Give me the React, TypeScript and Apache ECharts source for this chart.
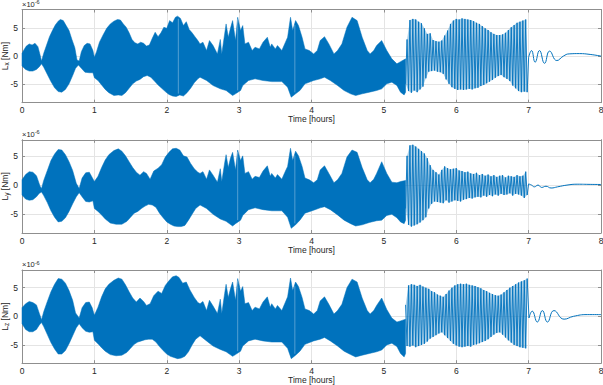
import React, { useEffect, useRef } from 'react';
import * as echarts from 'echarts';

// ---------- data (values in units of 1e-6 Nm, time in hours) ----------
// dense part: upper / lower envelope of the fast oscillation, [time, value]
const LX_UPPER = [[0,0.5],[0.03,1.2],[0.06,1.8],[0.1,2.2],[0.14,2.0],[0.18,2.3],[0.22,1.7],[0.25,0.2],[0.27,-0.9],[0.3,0.5],[0.34,2.0],[0.38,3.5],[0.42,4.6],[0.46,5.6],[0.5,6.3],[0.53,6.6],[0.57,6.4],[0.61,5.5],[0.65,4.6],[0.69,3.0],[0.73,1.5],[0.76,-0.7],[0.79,-0.9],[0.82,0.8],[0.86,1.9],[0.9,2.3],[0.94,2.2],[0.98,1.0],[1.0,-0.2],[1.03,0.8],[1.07,2.5],[1.12,3.8],[1.17,5.0],[1.22,5.8],[1.27,6.3],[1.32,6.6],[1.36,6.5],[1.4,5.8],[1.44,5.2],[1.48,4.2],[1.52,3.0],[1.56,2.4],[1.6,2.2],[1.64,2.5],[1.68,2.3],[1.72,1.8],[1.76,2.0],[1.8,3.2],[1.84,4.3],[1.88,3.5],[1.92,4.2],[1.96,5.2],[2.0,5.0],[2.04,6.4],[2.08,6.0],[2.12,7.0],[2.15,7.2],[2.19,6.8],[2.23,5.5],[2.27,6.2],[2.31,4.8],[2.35,4.2],[2.39,3.5],[2.43,2.8],[2.46,2.2],[2.5,2.5],[2.55,1.0],[2.59,2.8],[2.64,1.9],[2.7,0.4],[2.74,3.0],[2.76,0.4],[2.8,4.0],[2.82,5.8],[2.85,3.4],[2.88,5.0],[2.91,6.4],[2.95,2.8],[2.98,7.0],[3.02,4.6],[3.05,5.5],[3.08,2.2],[3.13,2.5],[3.18,1.0],[3.22,1.6],[3.28,1.3],[3.33,2.5],[3.39,3.4],[3.43,1.6],[3.45,2.2],[3.5,1.3],[3.53,1.9],[3.59,1.0],[3.64,2.5],[3.67,3.4],[3.71,7.0],[3.74,4.6],[3.78,6.4],[3.82,5.5],[3.87,3.4],[3.91,1.3],[3.97,1.0],[4.03,0.4],[4.08,1.0],[4.12,2.8],[4.18,3.5],[4.24,2.2],[4.31,0.4],[4.36,1.0],[4.42,2.2],[4.49,5.2],[4.56,7.0],[4.63,6.4],[4.7,3.4],[4.77,1.0],[4.81,0.4],[4.86,1.0],[4.9,1.9],[4.97,2.8],[5.04,1.0],[5.11,-0.5],[5.18,-1.4],[5.23,-1.0],[5.3,-0.5]];
const LX_LOWER = [[0,-1.8],[0.05,-2.4],[0.1,-2.7],[0.15,-2.7],[0.2,-2.4],[0.24,-1.9],[0.27,-1.4],[0.3,-2.0],[0.35,-3.3],[0.4,-4.6],[0.45,-5.7],[0.5,-6.4],[0.55,-6.5],[0.6,-6.0],[0.65,-5.0],[0.7,-3.5],[0.74,-2.2],[0.78,-1.6],[0.82,-2.2],[0.87,-2.9],[0.93,-3.0],[0.98,-3.0],[1.0,-3.9],[1.05,-4.4],[1.1,-5.2],[1.15,-6.0],[1.2,-6.6],[1.27,-7.1],[1.33,-7.0],[1.38,-7.1],[1.43,-6.6],[1.48,-5.8],[1.53,-5.0],[1.58,-4.5],[1.63,-4.2],[1.68,-3.7],[1.73,-3.5],[1.78,-3.8],[1.83,-4.5],[1.88,-5.2],[1.93,-5.8],[1.98,-6.4],[2.03,-6.9],[2.08,-7.2],[2.13,-7.3],[2.18,-7.0],[2.23,-7.2],[2.28,-6.6],[2.33,-5.8],[2.38,-4.8],[2.43,-4.1],[2.46,-3.8],[2.55,-4.4],[2.64,-5.3],[2.74,-5.9],[2.82,-6.2],[2.91,-7.1],[2.95,-6.8],[3.02,-6.2],[3.05,-5.3],[3.13,-4.4],[3.22,-4.1],[3.33,-4.4],[3.45,-4.6],[3.59,-4.6],[3.67,-5.6],[3.72,-7.4],[3.78,-6.8],[3.84,-6.2],[3.91,-5.0],[4.03,-4.4],[4.12,-4.1],[4.18,-3.8],[4.26,-4.4],[4.36,-5.3],[4.45,-6.2],[4.54,-6.8],[4.61,-7.1],[4.7,-6.8],[4.8,-6.5],[4.9,-6.2],[4.97,-5.9],[5.04,-5.0],[5.11,-4.7],[5.18,-5.3],[5.23,-6.5],[5.28,-7.0],[5.3,-6.5]];

const LY_UPPER = [[0,0.9],[0.05,1.8],[0.1,2.3],[0.15,2.2],[0.2,1.6],[0.25,-0.2],[0.27,-0.6],[0.3,0.8],[0.35,2.5],[0.4,4.2],[0.45,5.3],[0.5,6.1],[0.55,6.0],[0.6,5.2],[0.65,4.0],[0.7,2.5],[0.75,0.3],[0.79,-0.6],[0.83,1.2],[0.88,2.1],[0.93,2.2],[0.97,1.3],[1.0,0.6],[1.05,1.5],[1.1,3.0],[1.15,4.3],[1.2,5.2],[1.27,5.9],[1.33,6.2],[1.38,5.8],[1.43,5.0],[1.48,4.0],[1.53,3.0],[1.58,2.2],[1.63,1.7],[1.68,2.3],[1.72,2.0],[1.77,1.0],[1.82,2.4],[1.88,2.9],[1.93,3.5],[1.98,4.8],[2.03,5.6],[2.08,6.2],[2.13,6.3],[2.18,6.0],[2.23,5.0],[2.28,4.8],[2.33,3.7],[2.38,2.8],[2.43,2.2],[2.46,2.0],[2.5,2.3],[2.55,1.0],[2.59,2.6],[2.64,1.7],[2.7,0.5],[2.74,2.8],[2.76,0.6],[2.8,3.8],[2.82,5.2],[2.85,3.0],[2.88,4.6],[2.91,5.6],[2.95,2.6],[2.98,6.0],[3.02,4.2],[3.05,5.0],[3.08,2.0],[3.13,2.3],[3.18,1.0],[3.22,1.5],[3.28,1.3],[3.33,2.4],[3.39,3.3],[3.43,1.5],[3.45,2.0],[3.5,1.2],[3.53,1.8],[3.59,1.0],[3.64,2.4],[3.67,3.2],[3.71,6.3],[3.74,4.2],[3.78,5.8],[3.82,5.0],[3.87,3.2],[3.91,1.2],[3.97,0.9],[4.03,0.4],[4.08,0.9],[4.12,2.6],[4.18,3.3],[4.24,2.0],[4.31,0.4],[4.36,0.9],[4.42,2.0],[4.49,4.8],[4.56,6.0],[4.63,5.6],[4.7,3.0],[4.77,0.9],[4.81,0.4],[4.86,1.0],[4.9,2.0],[4.97,4.0],[5.04,2.0],[5.11,0.5],[5.18,0.4],[5.23,0.6],[5.3,0.8]];
const LY_LOWER = [[0,-1.7],[0.05,-2.4],[0.1,-2.6],[0.15,-2.5],[0.2,-2.0],[0.24,-1.4],[0.27,-1.2],[0.3,-1.8],[0.35,-3.0],[0.4,-4.4],[0.45,-5.5],[0.5,-6.3],[0.55,-6.2],[0.6,-5.6],[0.65,-4.5],[0.7,-3.2],[0.75,-2.0],[0.79,-1.3],[0.83,-2.0],[0.88,-2.8],[0.93,-2.9],[0.98,-2.7],[1.0,-4.0],[1.05,-4.5],[1.1,-5.1],[1.15,-5.8],[1.22,-6.5],[1.3,-6.7],[1.38,-6.7],[1.45,-6.2],[1.5,-5.5],[1.55,-4.8],[1.6,-4.5],[1.65,-4.0],[1.7,-3.6],[1.75,-3.3],[1.8,-3.4],[1.85,-3.8],[1.9,-4.8],[1.95,-5.6],[2.0,-6.3],[2.05,-6.7],[2.1,-7.0],[2.15,-7.1],[2.2,-7.1],[2.25,-6.9],[2.3,-6.0],[2.35,-5.0],[2.4,-4.0],[2.46,-3.4],[2.55,-4.0],[2.64,-5.0],[2.74,-5.8],[2.82,-6.2],[2.91,-7.0],[2.95,-6.6],[3.02,-6.0],[3.05,-5.2],[3.13,-4.2],[3.22,-3.9],[3.33,-4.2],[3.45,-4.4],[3.59,-4.4],[3.67,-5.5],[3.72,-7.4],[3.78,-6.8],[3.84,-6.0],[3.91,-4.8],[4.03,-4.3],[4.12,-3.9],[4.18,-3.7],[4.26,-4.2],[4.36,-5.1],[4.45,-6.0],[4.54,-6.6],[4.61,-7.0],[4.7,-6.8],[4.8,-6.4],[4.9,-6.1],[4.97,-6.0],[5.04,-5.2],[5.11,-5.0],[5.18,-5.6],[5.23,-6.3],[5.28,-6.6],[5.3,-6.0]];

const LZ_UPPER = [[0,1.5],[0.05,2.2],[0.1,2.6],[0.15,2.4],[0.2,2.0],[0.24,0.5],[0.27,-0.6],[0.3,0.8],[0.35,2.6],[0.4,4.3],[0.45,5.6],[0.5,6.6],[0.55,6.5],[0.6,5.8],[0.65,4.5],[0.7,2.8],[0.74,0.6],[0.79,-0.3],[0.83,1.5],[0.88,2.4],[0.93,2.5],[0.97,1.5],[1.0,0.2],[1.05,1.6],[1.1,3.4],[1.15,4.8],[1.2,5.6],[1.27,6.3],[1.33,6.7],[1.38,6.5],[1.43,5.5],[1.48,4.3],[1.53,3.2],[1.58,2.5],[1.63,3.2],[1.68,2.6],[1.72,1.9],[1.77,2.2],[1.82,3.6],[1.88,4.4],[1.93,4.0],[1.98,5.4],[2.03,6.2],[2.08,6.9],[2.13,7.1],[2.17,6.8],[2.22,5.8],[2.27,6.0],[2.32,4.6],[2.38,3.3],[2.43,2.4],[2.46,2.2],[2.5,2.6],[2.55,1.0],[2.59,2.8],[2.64,1.8],[2.7,0.5],[2.74,3.0],[2.76,0.5],[2.8,4.0],[2.82,5.6],[2.85,3.3],[2.88,4.8],[2.91,6.0],[2.95,2.8],[2.98,6.6],[3.02,4.4],[3.05,5.2],[3.08,2.2],[3.13,2.4],[3.18,1.0],[3.22,1.6],[3.28,1.3],[3.33,2.5],[3.39,3.4],[3.43,1.6],[3.45,2.2],[3.5,1.3],[3.53,1.9],[3.59,1.0],[3.64,2.5],[3.67,3.4],[3.71,6.7],[3.74,4.5],[3.78,6.0],[3.82,5.2],[3.87,3.3],[3.91,1.3],[3.97,1.0],[4.03,0.4],[4.08,1.0],[4.12,2.7],[4.18,3.4],[4.24,2.1],[4.31,0.4],[4.36,1.0],[4.42,2.1],[4.49,5.0],[4.56,6.5],[4.63,6.0],[4.7,3.2],[4.77,1.0],[4.81,0.4],[4.86,1.0],[4.9,1.9],[4.97,3.2],[5.04,1.2],[5.11,-0.3],[5.18,-1.0],[5.23,-0.8],[5.3,-0.5]];
const LZ_LOWER = [[0,-1.3],[0.05,-2.3],[0.1,-2.7],[0.15,-2.7],[0.2,-2.3],[0.24,-1.5],[0.27,-1.1],[0.3,-1.8],[0.35,-3.2],[0.4,-4.6],[0.45,-5.7],[0.5,-6.6],[0.55,-6.6],[0.6,-6.0],[0.65,-4.8],[0.7,-3.4],[0.75,-2.0],[0.79,-1.3],[0.83,-2.0],[0.88,-2.6],[0.93,-2.8],[0.98,-2.7],[1.0,-4.2],[1.05,-4.8],[1.1,-5.5],[1.15,-6.1],[1.22,-6.7],[1.3,-6.9],[1.38,-6.8],[1.45,-6.3],[1.5,-5.6],[1.55,-4.9],[1.6,-4.5],[1.65,-4.3],[1.7,-4.1],[1.75,-4.0],[1.8,-4.0],[1.85,-4.5],[1.9,-5.3],[1.95,-6.0],[2.0,-6.6],[2.05,-7.0],[2.1,-7.2],[2.15,-7.4],[2.2,-7.3],[2.25,-7.0],[2.3,-6.2],[2.35,-5.0],[2.4,-4.0],[2.46,-3.4],[2.55,-4.3],[2.64,-5.2],[2.74,-5.8],[2.82,-6.2],[2.91,-7.0],[2.95,-6.7],[3.02,-6.1],[3.05,-5.2],[3.13,-4.3],[3.22,-4.0],[3.33,-4.3],[3.45,-4.5],[3.59,-4.5],[3.67,-5.6],[3.72,-7.4],[3.78,-6.8],[3.84,-6.1],[3.91,-4.9],[4.03,-4.3],[4.12,-4.0],[4.18,-3.7],[4.26,-4.3],[4.36,-5.2],[4.45,-6.1],[4.54,-6.7],[4.61,-7.1],[4.7,-6.8],[4.8,-6.5],[4.9,-6.2],[4.97,-5.9],[5.04,-5.0],[5.11,-4.7],[5.18,-5.3],[5.23,-6.5],[5.28,-7.1],[5.3,-6.5]];

// short data gaps (thin white lines through the dense band), hours
const LX_GAPS = [2.16, 2.98, 3.77];
const LY_GAPS = [2.98, 3.77];
const LZ_GAPS = [2.98, 3.77];

// sparse part: swing extremes sampled every TAIL_STEP hours from TAIL_START
const TAIL_START = 5.3;
const TAIL_STEP = 0.02;
const LX_TAIL = [-5.0,3.0,-6.3,6.5,-6.6,6.7,-6.2,6.6,-6.5,6.2,-6.0,5.9,-5.5,5.0,-4.0,4.0,-2.8,4.1,-2.7,2.9,-2.6,2.7,-2.8,2.6,-2.9,2.8,-3.2,3.7,-4.2,4.6,-5.0,5.8,-5.6,6.4,-5.9,6.7,-6.1,6.6,-6.0,6.8,-6.1,6.7,-6.0,6.6,-5.9,6.5,-6.0,6.3,-5.8,6.0,-5.7,5.8,-5.4,5.4,-5.2,5.0,-4.9,4.7,-4.6,4.3,-4.3,4.0,-3.9,3.8,-3.6,3.8,-3.4,3.9,-3.8,4.2,-4.1,4.7,-4.5,5.2,-5.3,5.6,-5.8,6.0,-6.3,6.2,-6.5,6.4,-6.4,6.6,-6.5];
const LY_TAIL = [-4.0,5.0,-6.8,6.8,-7.1,6.9,-6.9,6.6,-6.7,6.2,-6.4,5.8,-6.0,5.4,-5.5,4.6,-4.0,3.4,-3.2,2.6,-2.8,2.2,-2.9,1.8,-3.0,2.6,-3.1,3.2,-2.6,2.9,-3.0,2.7,-2.8,2.8,-2.6,2.9,-2.7,2.5,-2.8,2.4,-2.5,2.2,-2.4,2.3,-2.2,2.0,-2.3,1.9,-2.1,2.1,-2.0,1.7,-2.1,1.9,-1.8,1.6,-2.0,1.8,-1.7,1.5,-1.9,1.7,-1.6,1.4,-1.8,1.6,-1.5,1.7,-1.7,1.3,-1.6,1.6,-1.4,1.5,-1.8,1.4,-1.5,1.7,-1.6,1.5,-1.8,1.6,-2.2,2.3,-1.7];
const LZ_TAIL = [2.0,-5.2,5.4,-5.3,5.6,-5.1,5.5,-5.4,5.3,-5.2,5.5,-5.0,5.2,-4.8,5.0,-4.4,4.8,-3.9,4.4,-3.6,4.2,-3.3,3.8,-3.0,3.6,-2.8,3.4,-3.3,3.9,-3.8,4.5,-4.3,5.0,-4.8,5.4,-5.1,5.6,-5.3,5.7,-5.4,5.6,-5.3,5.7,-5.2,5.5,-5.3,5.4,-5.0,5.3,-4.9,5.1,-4.7,4.9,-4.5,4.6,-4.3,4.4,-4.0,4.1,-3.6,3.9,-3.2,3.7,-2.9,3.6,-2.8,3.8,-3.2,4.2,-3.7,4.6,-4.2,5.0,-4.6,5.3,-5.0,5.6,-5.2,5.9,-5.4,6.1,-5.5,6.3,-5.6,6.6];

// slow decay after 7 h, [time, value]
const LX_DECAY = [[7.0,-0.2],[7.04,1.0],[7.09,-1.1],[7.15,1.0],[7.22,-1.3],[7.29,0.9],[7.39,-0.8],[7.48,0.0],[7.56,0.4],[7.7,0.45],[7.85,0.3],[8.0,0.0]];
const LY_DECAY = [[7.0,0.2],[7.04,0.0],[7.08,-0.3],[7.13,0.0],[7.18,-0.4],[7.24,-0.2],[7.31,-0.5],[7.4,-0.3],[7.53,0.0],[7.67,0.15],[7.85,0.12],[8.0,0.1]];
const LZ_DECAY = [[7.005,-0.3],[7.05,0.9],[7.12,-1.0],[7.19,1.0],[7.26,-1.0],[7.35,1.0],[7.49,-0.5],[7.62,0.0],[7.81,0.3],[8.0,0.3]];

const X_MAX = 8;

// ---------- styling ----------
const FONT = '"Liberation Sans", Arial, Helvetica, sans-serif';
const BLUE = '#0072BD';
const TEXT = '#262626';
const AXIS = '#8f8f8f';
const GRIDC = '#e4e4e4';
const GRID_H = 93.2;

const panels = [
  { sub: 'x', upper: LX_UPPER, lower: LX_LOWER, gaps: LX_GAPS, tail: LX_TAIL, decay: LX_DECAY, yMin: -8.4, yMax: 8.4, top: 9.5 },
  { sub: 'y', upper: LY_UPPER, lower: LY_LOWER, gaps: LY_GAPS, tail: LY_TAIL, decay: LY_DECAY, yMin: -8.2, yMax: 7.75, top: 139.8 },
  { sub: 'z', upper: LZ_UPPER, lower: LZ_LOWER, gaps: LZ_GAPS, tail: LZ_TAIL, decay: LZ_DECAY, yMin: -8.2, yMax: 8.1, top: 270 },
];

// value of a piecewise-linear envelope at time t (for clipping the gap lines to the band)
function envAt(env: number[][], t: number): number {
  for (let k = 1; k < env.length; k++) {
    if (env[k][0] >= t) {
      const [t0, v0] = env[k - 1];
      const [t1, v1] = env[k];
      return v0 + ((v1 - v0) * (t - t0)) / (t1 - t0 || 1);
    }
  }
  return env[env.length - 1][1];
}

function buildOption(): any {
  const grid = panels.map((p) => ({
    left: 22, right: 2, top: p.top, height: GRID_H, containLabel: false, outerBoundsMode: 'none',
  }));

  const xAxis: any[] = [];
  const yAxis: any[] = [];
  panels.forEach((p, i) => {
    xAxis.push({
      gridIndex: i, type: 'value', min: 0, max: X_MAX, interval: 1, position: 'bottom',
      axisLine: { show: true, onZero: false, lineStyle: { color: AXIS, width: 1 } },
      axisTick: { show: true, inside: true, length: 3, lineStyle: { color: AXIS } },
      axisLabel: { color: TEXT, fontSize: 8.5, fontFamily: FONT, margin: 3 },
      splitLine: { show: true, lineStyle: { color: GRIDC, width: 1 } },
      name: 'Time [hours]', nameLocation: 'middle', nameGap: 12, nameMoveOverlap: false,
      nameTextStyle: { color: TEXT, fontSize: 8.5, fontFamily: FONT },
    });
    yAxis.push({
      gridIndex: i, type: 'value', min: p.yMin, max: p.yMax, minInterval: 5, maxInterval: 5, position: 'left',
      axisLine: { show: true, onZero: false, lineStyle: { color: AXIS, width: 1 } },
      axisTick: { show: true, inside: true, length: 3, lineStyle: { color: AXIS } },
      axisLabel: {
        color: TEXT, fontSize: 8.5, fontFamily: FONT, margin: 4, showMinLabel: false, showMaxLabel: false,
        formatter: (v: number) => (Math.abs(v % 5) < 1e-9 ? String(v) : ''),
      },
      splitLine: { show: true, lineStyle: { color: GRIDC, width: 1 } },
      name: `{i|L}{s|${p.sub}}{i| [Nm]}`, nameLocation: 'middle', nameGap: 12, nameMoveOverlap: false,
      nameTextStyle: {
        color: TEXT, fontFamily: FONT, fontSize: 8.5,
        rich: {
          i: { fontSize: 8.5, fontFamily: FONT, color: TEXT, lineHeight: 10, verticalAlign: 'top' },
          s: { fontSize: 6.5, fontFamily: FONT, color: TEXT, lineHeight: 8, padding: [3, 0, 0, 0], verticalAlign: 'bottom' },
        },
      },
    });
  });
  panels.forEach((p, i) => {
    xAxis.push({
      gridIndex: i, type: 'value', min: 0, max: X_MAX, interval: 1, position: 'top',
      axisLine: { show: true, onZero: false, lineStyle: { color: AXIS, width: 1 } },
      axisTick: { show: true, inside: true, length: 3, lineStyle: { color: AXIS } },
      axisLabel: { show: false }, splitLine: { show: false },
    });
    yAxis.push({
      gridIndex: i, type: 'value', min: p.yMin, max: p.yMax, minInterval: 5, maxInterval: 5, position: 'right',
      axisLine: { show: true, onZero: false, lineStyle: { color: AXIS, width: 1 } },
      axisTick: { show: true, inside: true, length: 3, lineStyle: { color: AXIS } },
      axisLabel: { show: false }, splitLine: { show: false },
    });
  });

  const series: any[] = [];
  panels.forEach((p, i) => {
    const tailPts = p.tail.map((v, k) => [TAIL_START + k * TAIL_STEP, v]);
    const tailUp = tailPts.filter((d) => d[1] >= 0);
    const tailDown = tailPts.filter((d) => d[1] < 0);

    // dense band + light fill between the swings of the sparse part + gap lines
    series.push({
      type: 'custom', xAxisIndex: i, yAxisIndex: i, silent: true, data: [[0, 0]],
      encode: { x: 0, y: 1 },
      renderItem: (_params: any, api: any) => {
        const band = [
          ...p.upper.map((d) => api.coord(d)),
          ...p.lower.slice().reverse().map((d) => api.coord(d)),
        ];
        const swing = [
          ...tailUp.map((d) => api.coord(d)),
          ...tailDown.slice().reverse().map((d) => api.coord(d)),
        ];
        const children: any[] = [
          { type: 'polygon', shape: { points: swing }, style: { fill: BLUE, opacity: 0.33 } },
          { type: 'polygon', shape: { points: band }, style: { fill: BLUE, stroke: BLUE, lineWidth: 0.5 } },
        ];
        p.gaps.forEach((t) => {
          const a = api.coord([t, envAt(p.upper, t)]);
          const b = api.coord([t, envAt(p.lower, t)]);
          children.push({
            type: 'line', shape: { x1: a[0], y1: a[1] + 2, x2: b[0], y2: b[1] - 2 },
            style: { stroke: '#ffffff', lineWidth: 0.6, opacity: 0.55 },
          });
        });
        return { type: 'group', children };
      },
    });
    const tailData = tailPts.slice();
    tailData.push(p.decay[0]);
    series.push({
      type: 'line', xAxisIndex: i, yAxisIndex: i, silent: true, data: tailData,
      symbol: 'none', showSymbol: false, lineStyle: { color: BLUE, width: 0.9 },
    });
    series.push({
      type: 'line', xAxisIndex: i, yAxisIndex: i, silent: true, data: p.decay, smooth: 0.5,
      symbol: 'none', showSymbol: false, lineStyle: { color: BLUE, width: 1 },
    });
  });

  const graphic = panels.map((p) => ({
    type: 'text', left: 22, top: p.top - 10.5, silent: true,
    style: {
      text: '{a|×10}{b|-6}',
      rich: {
        a: { fontSize: 7.5, fontFamily: FONT, fill: TEXT, lineHeight: 9, verticalAlign: 'bottom' },
        b: { fontSize: 5.5, fontFamily: FONT, fill: TEXT, lineHeight: 7, padding: [0, 0, 4, 0], verticalAlign: 'top' },
      },
    },
  }));

  return {
    animation: false,
    backgroundColor: '#ffffff',
    grid, xAxis, yAxis, series, graphic,
  };
}

export default function App() {
  const ref = useRef<HTMLDivElement>(null);
  useEffect(() => {
    if (!ref.current) return;
    const chart = echarts.init(ref.current, null, { renderer: 'svg' });
    chart.setOption(buildOption());
    return () => chart.dispose();
  }, []);
  return (
    <div
      ref={ref}
      style={{ position: 'fixed', left: 0, top: 0, width: 603, height: 385, background: '#fff' }}
    />
  );
}
